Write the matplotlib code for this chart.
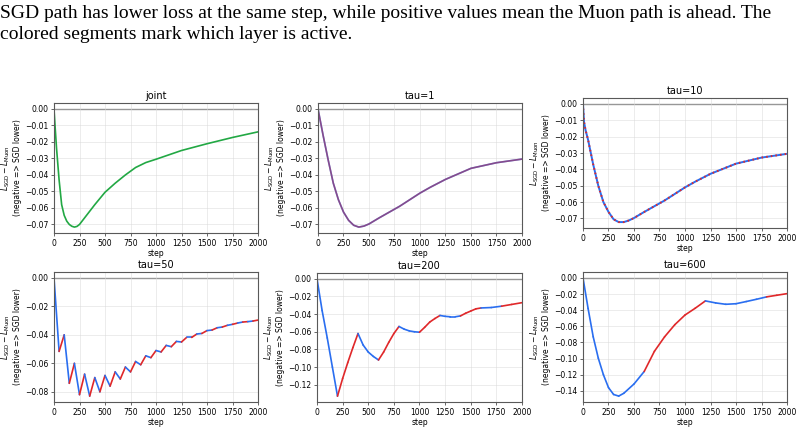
import numpy as np
import matplotlib
matplotlib.use("Agg")
import matplotlib.pyplot as plt

# caption lines (from the paper page)
caption1 = "SGD path has lower loss at the same step, while positive values mean the Muon path is ahead. The"
caption2 = "colored segments mark which layer is active."

# joint run
joint_step = [0, 10, 25, 50, 75, 100, 125, 150, 175, 200, 225, 250, 300, 400, 500, 600, 700,
              800, 900, 1000, 1250, 1500, 1750, 2000]
joint_val = [0.0, -0.010, -0.024, -0.043, -0.058, -0.0645, -0.0680, -0.0700, -0.0711, -0.0716,
             -0.0712, -0.0700, -0.066, -0.058, -0.0505, -0.045, -0.040, -0.0355, -0.0325,
             -0.0305, -0.0252, -0.0211, -0.0173, -0.0139]

# tau=1
tau1_step = [0, 25, 50, 100, 150, 200, 250, 300, 350, 400, 450, 500, 600, 700, 800, 900,
             1000, 1100, 1250, 1500, 1750, 2000]
tau1_val = [0.0, -0.008, -0.016, -0.031, -0.045, -0.055, -0.0625, -0.0675, -0.0705, -0.0716,
            -0.0710, -0.0697, -0.066, -0.0625, -0.059, -0.055, -0.051, -0.0475, -0.0427,
            -0.036, -0.0326, -0.0304]

# tau=10
tau10_step = [0, 10, 25, 50, 100, 150, 200, 250, 300, 350, 400, 450, 500, 600, 700, 800, 900,
              1000, 1100, 1250, 1500, 1750, 2000]
tau10_val = [0.0, -0.011, -0.016, -0.022, -0.037, -0.050, -0.060, -0.066, -0.0705, -0.0722,
             -0.0722, -0.0712, -0.0697, -0.066, -0.0625, -0.059, -0.055, -0.051, -0.0475,
             -0.0427, -0.0365, -0.0328, -0.0305]

# tau=50 (one value every 50 steps)
tau50_step = list(range(0, 2001, 50))
tau50_val = [0.0, -0.0516, -0.040, -0.074, -0.060, -0.082, -0.0676, -0.083, -0.070, -0.080,
             -0.0685, -0.076, -0.066, -0.071, -0.0626, -0.066, -0.0587, -0.061, -0.0547,
             -0.056, -0.051, -0.052, -0.0474, -0.0483, -0.0446, -0.045, -0.0418, -0.0418,
             -0.0394, -0.039, -0.037, -0.0366, -0.035, -0.0345, -0.0333, -0.0326, -0.0317,
             -0.031, -0.0307, -0.0303, -0.0296]

# tau=200
tau200_step = [0, 50, 100, 150, 200, 250, 300, 350, 400, 450, 500, 550, 600, 650, 700, 750,
               800, 850, 900, 950, 1000, 1050, 1100, 1150, 1200, 1250, 1300, 1350, 1400,
               1450, 1500, 1550, 1600, 1700, 1800, 1900, 2000]
tau200_val = [0.0, -0.036, -0.067, -0.100, -0.133, -0.113, -0.095, -0.078, -0.062, -0.075,
              -0.083, -0.088, -0.092, -0.083, -0.072, -0.062, -0.054, -0.057, -0.059, -0.060,
              -0.0605, -0.055, -0.049, -0.045, -0.0415, -0.0425, -0.043, -0.043, -0.042,
              -0.039, -0.0365, -0.034, -0.033, -0.0325, -0.031, -0.029, -0.027]

# tau=600
tau600_step = [0, 50, 100, 150, 200, 250, 300, 350, 400, 500, 600, 700, 800, 900, 1000, 1100,
               1200, 1300, 1400, 1500, 1600, 1700, 1800, 1900, 2000]
tau600_val = [0.0, -0.038, -0.073, -0.0995, -0.120, -0.136, -0.1445, -0.1465, -0.143, -0.1315,
              -0.116, -0.091, -0.073, -0.058, -0.046, -0.0376, -0.0285, -0.031, -0.0327,
              -0.032, -0.0293, -0.0265, -0.0235, -0.0215, -0.0195]

blue = "#2a6ef0"
red = "#e0282a"
green = "#22a844"

# axes boxes in pixels: left, top, right, bottom
boxes = {
    "joint": (54, 103, 258, 233),
    "tau=1": (318, 103, 522, 233),
    "tau=10": (583, 98, 787, 228),
    "tau=50": (54, 272, 258, 402),
    "tau=200": (317, 273, 522, 402),
    "tau=600": (583, 272, 787, 402),
}
W, H = 804, 430

fig = plt.figure(figsize=(8.04, 4.30), dpi=100)
fig.text(0.0, 1 - 18 / H, caption1, family="Liberation Serif", fontsize=14.0, ha="left", va="baseline")
fig.text(0.0, 1 - 39 / H, caption2, family="Liberation Serif", fontsize=14.0, ha="left", va="baseline")


def make_ax(name):
    l, t, r, b = boxes[name]
    ax = fig.add_axes([l / W, 1 - b / H, (r - l) / W, (b - t) / H])
    ax.axhline(0, color="0.35", lw=0.9, zorder=1)
    ax.set_xlim(0, 2000)
    ax.set_xticks([0, 250, 500, 750, 1000, 1250, 1500, 1750, 2000])
    ax.grid(True, color="0.85", lw=0.5, alpha=0.7)
    ax.set_title(name, fontsize=7, pad=3)
    ax.set_xlabel("step", fontsize=5.5, labelpad=1)
    ax.set_ylabel("$L_{\\mathrm{SGD}} - L_{\\mathrm{Muon}}$\n(negative => SGD lower)", fontsize=5.5, labelpad=2)
    ax.tick_params(labelsize=5.5, length=2.5, width=0.6, pad=1.5, color="0.3")
    for s in ax.spines.values():
        s.set_color("0.35")
        s.set_linewidth(0.8)
    return ax


def plot_alternating(ax, steps, vals, tau):
    for i in range(len(steps) - 1):
        c = blue if (steps[i] // tau) % 2 == 0 else red
        ax.plot(steps[i:i + 2], vals[i:i + 2], color=c, lw=1.2, solid_capstyle="round")


ax = make_ax("joint")
ax.plot(joint_step, joint_val, color=green, lw=1.2)

ax = make_ax("tau=1")
ax.plot(tau1_step, tau1_val, color=blue, lw=1.2)
ax.plot(tau1_step, tau1_val, color=red, lw=1.2, alpha=0.5)

ax = make_ax("tau=10")
ax.plot(tau10_step, tau10_val, color=blue, lw=1.4)
ax.plot(tau10_step, tau10_val, color=red, lw=1.4, dashes=(0.8, 1.6))

ax = make_ax("tau=50")
plot_alternating(ax, tau50_step, tau50_val, 50)
ax.set_yticks([0, -0.02, -0.04, -0.06, -0.08])

ax = make_ax("tau=200")
plot_alternating(ax, tau200_step, tau200_val, 200)

ax = make_ax("tau=600")
plot_alternating(ax, tau600_step, tau600_val, 600)
ax.set_yticks([0, -0.02, -0.04, -0.06, -0.08, -0.10, -0.12, -0.14])

fig.savefig("out.png", dpi=100)
